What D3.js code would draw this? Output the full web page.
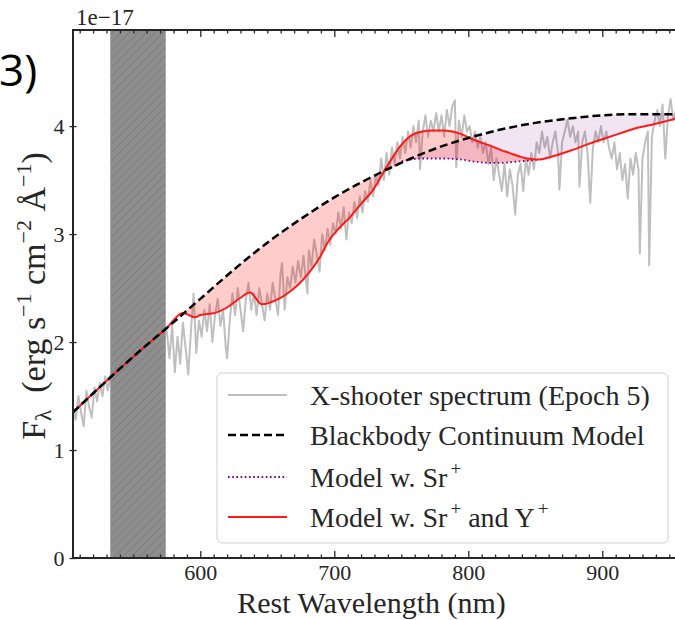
<!DOCTYPE html>
<html><head><meta charset="utf-8">
<script src="https://cdn.jsdelivr.net/npm/d3@7"></script>
<style>body{margin:0;background:#fff}svg{display:block}</style>
</head><body><svg id="c" width="675" height="620"></svg>
<script>
// ---------------- data ----------------
const xTicks = [600, 700, 800, 900];
const yTicks = [0, 1, 2, 3, 4];
const maskedBand = [533, 574];
const legendLabels = ["X-shooter spectrum (Epoch 5)", "Blackbody Continuum Model", "Model w. Sr", "Model w. Sr"];

const blackbody = [[505,1.35],[530,1.64],[555,1.92],[575,2.13],[600,2.40],[625,2.67],[650,2.92],[675,3.14],[700,3.34],[725,3.51],[750,3.66],[775,3.79],[800,3.89],[825,3.97],[850,4.03],[875,4.07],[900,4.10],[925,4.11],[955,4.11]];

const modelSrY = [[505,1.35],[530,1.64],[555,1.92],[575,2.13],[587,2.27],[596,2.23],[600,2.25],[611,2.27],[620,2.32],[630,2.41],[637,2.46],[646,2.35],[657,2.39],[665,2.45],[673,2.53],[681,2.64],[689,2.78],[695,2.92],[704,3.06],[712,3.16],[720,3.28],[729,3.41],[739,3.62],[749,3.81],[757,3.91],[766,3.95],[773,3.96],[781,3.96],[788,3.95],[794,3.93],[801,3.89],[809,3.85],[816,3.82],[824,3.78],[831,3.75],[838,3.72],[844,3.70],[853,3.69],[860,3.71],[866,3.73],[878,3.78],[891,3.84],[903,3.89],[915,3.94],[925,3.98],[936,4.01],[946,4.04],[955,4.07]];

const modelSr = [[745,3.63],[750,3.67],[757,3.69],[765,3.70],[780,3.70],[795,3.69],[805,3.67],[815,3.66],[825,3.66],[835,3.67],[845,3.68],[853,3.69]];

const spectrum = [[505,1.40],[507,1.28],[509,1.50],[511,1.35],[513,1.22],[515,1.55],[517,1.40],[519,1.30],[521,1.58],[523,1.45],[525,1.62],[527,1.50],[529,1.68],[531,1.55],[533,1.70],[540,1.78],[550,1.85],[560,1.95],[570,2.05],
[575,2.10],[577,1.85],[579,2.15],[581,1.72],[583,2.05],[585,1.80],[587,2.18],[589,1.95],[591,1.70],[593,2.10],[595,2.45],[597,1.90],[599,2.20],
[601,2.05],[603,2.30],[605,2.10],[607,2.35],[609,2.00],[611,2.25],[613,2.40],[615,2.15],[617,2.30],[619,1.95],[620,1.85],[622,2.20],[624,2.45],[626,2.25],[628,2.50],[630,2.30],[632,2.10],[634,2.40],[636,2.55],[638,2.30],[640,2.45],
[642,2.25],[644,2.50],[646,2.35],[648,2.20],[650,2.45],[652,2.30],[654,2.55],[656,2.40],[658,2.25],[660,2.65],[661,2.73],[663,2.30],[665,2.60],[667,2.50],[669,2.70],[671,2.55],[673,2.75],[675,2.60],[677,2.80],[679,2.55],[680,2.45],[681,2.85],[683,2.70],[685,2.95],[687,2.80],[689,2.65],[691,3.00],[693,2.85],[695,3.05],[697,2.90],[699,3.10],
[701,3.00],[703,3.20],[705,3.05],[707,3.25],[709,2.95],[711,3.20],[713,3.10],[715,3.30],[717,3.15],[719,3.35],[721,3.20],[723,3.40],[725,3.30],[727,3.50],[729,3.35],[731,3.55],[733,3.45],[735,3.70],[737,3.50],[739,3.75],[741,3.55],
[743,3.80],[745,3.65],[747,3.85],[749,3.70],[751,3.90],[753,3.75],[755,3.95],[757,3.80],[759,4.00],[761,3.85],[763,4.05],[764,3.60],[766,3.95],[768,4.10],[770,3.90],[772,4.05],[774,3.95],[776,4.12],[778,3.95],[780,4.10],[782,3.90],[784,4.15],[786,4.00],[788,4.18],[790,4.24],[791,3.62],[793,4.05],[795,3.90],[797,4.10],[799,3.95],
[801,4.00],[803,3.85],[805,3.95],[807,3.80],[809,3.90],[811,3.75],[813,3.85],[815,3.65],[817,3.80],[819,3.50],[821,3.70],[823,3.55],[825,3.40],[827,3.65],[829,3.35],[831,3.60],[833,3.45],[835,3.18],[837,3.55],[839,3.65],[841,3.40],[843,3.70],[845,3.55],[847,3.75],[849,3.60],
[851,3.85],[853,3.75],[855,3.95],[857,3.80],[859,3.90],[861,3.70],[863,3.85],[865,3.95],[867,3.75],[868,3.41],[870,3.85],[872,3.95],[874,4.06],[876,3.90],[878,4.00],[880,3.85],[882,3.95],[883,3.44],[885,3.85],[887,3.95],[889,3.75],[891,3.29],[893,3.80],[895,3.95],[897,3.85],[899,4.00],[901,3.85],[903,3.95],
[905,3.80],[907,3.70],[909,3.85],[911,3.60],[913,3.75],[915,3.50],[917,3.65],[919,3.33],[921,3.70],[923,3.55],[925,3.75],[927,3.60],[928,2.82],[930,3.70],[932,3.85],[934,3.95],[935,2.71],[937,3.90],[939,4.05],[941,4.15],[943,4.00],[945,4.20],[947,3.70],[949,4.10],[951,4.25],[953,4.05],[955,4.15]];

// ---------------- layout ----------------
const svg = d3.select("#c");
const L = 73, T = 30, R = 680, B = 558;
const x = d3.scaleLinear().domain([505, 955]).range([L, 676]);
const y = d3.scaleLinear().domain([0, 4.89]).range([B, T]);
const serif = "'Liberation Serif','DejaVu Serif',serif";

const defs = svg.append("defs");
defs.append("clipPath").attr("id","clip").append("rect").attr("x",L).attr("y",T).attr("width",R-L).attr("height",B-T);
const pat = defs.append("pattern").attr("id","hatch").attr("patternUnits","userSpaceOnUse")
  .attr("width",6).attr("height",6).attr("patternTransform","rotate(45)");
pat.append("rect").attr("width",6).attr("height",6).attr("fill","#8e8e8e");
pat.append("line").attr("x1",0).attr("y1",0).attr("x2",0).attr("y2",6).attr("stroke","#747474").attr("stroke-width",1.2);

const interp = (arr) => (v) => {
  const i = d3.bisector(d => d[0]).right(arr, v);
  if (i <= 0) return arr[0][1];
  if (i >= arr.length) return arr[arr.length-1][1];
  const a = arr[i-1], b = arr[i];
  return a[1] + (b[1]-a[1]) * (v - a[0]) / (b[0]-a[0]);
};
const bbF = interp(blackbody), redF = interp(modelSrY), purF = interp(modelSr);
const srLo = modelSr[0][0], srHi = modelSr[modelSr.length-1][0];
const P = v => v < srLo ? bbF(v) : (v <= srHi ? purF(v) : redF(v));
const grid = Array.from(new Set([...blackbody, ...modelSrY, ...modelSr].map(d=>d[0]).concat(d3.range(505, 956, 1)))).sort((a,b)=>a-b);

const g = svg.append("g").attr("clip-path","url(#clip)");
const line = d3.line().x(d=>x(d[0])).y(d=>y(d[1]));

// spectrum
g.append("path").datum(spectrum).attr("d", line).attr("fill","none")
  .attr("stroke","#bfbfbf").attr("stroke-width",2).attr("stroke-linejoin","round");

// masked band
g.append("rect").attr("x", x(maskedBand[0])).attr("y", T).attr("width", x(maskedBand[1]) - x(maskedBand[0]))
  .attr("height", B - T).attr("fill","url(#hatch)").attr("stroke","#a8a8a8").attr("stroke-width",1);

// fills
const gp = grid.filter(v => v >= srLo);
g.append("path").datum(gp).attr("d", d3.area().x(v=>x(v)).y0(v=>y(bbF(v))).y1(v=>y(P(v))))
  .attr("fill","purple").attr("fill-opacity",0.1);
const gr = grid.filter(v => v >= 587);
g.append("path").datum(gr).attr("d", d3.area().x(v=>x(v)).y0(v=>y(P(v))).y1(v=>y(redF(v))))
  .attr("fill","red").attr("fill-opacity",0.2);

// model lines
g.append("path").datum(modelSr).attr("d", d3.line().x(d=>x(d[0])).y(d=>y(d[1])).curve(d3.curveMonotoneX))
  .attr("fill","none").attr("stroke","purple").attr("stroke-width",1.8).attr("stroke-dasharray","1.6,2.6");
g.append("path").datum(modelSrY).attr("d", d3.line().x(d=>x(d[0])).y(d=>y(d[1])).curve(d3.curveMonotoneX))
  .attr("fill","none").attr("stroke","#ff1a1a").attr("stroke-width",2);
g.append("path").datum(blackbody).attr("d", d3.line().x(d=>x(d[0])).y(d=>y(d[1])).curve(d3.curveMonotoneX))
  .attr("fill","none").attr("stroke","#000").attr("stroke-width",2.5).attr("stroke-dasharray","8,4");

// ---------------- axes ----------------
const axColor = "#262626";
const minorX = d3.range(510, 955, 10).filter(v => v % 100 !== 0);
function styleAxis(sel){
  sel.selectAll("path.domain").remove();
  sel.selectAll("line").attr("stroke",axColor).attr("stroke-width",1.3);
  sel.selectAll("text").attr("fill",axColor).style("font-family",serif).style("font-size","22px");
}
svg.append("g").attr("transform",`translate(0,${B})`)
  .call(d3.axisBottom(x).tickValues(xTicks).tickSize(-7).tickPadding(6).tickFormat(d3.format("d"))).call(styleAxis);
svg.append("g").attr("transform",`translate(0,${B})`)
  .call(d3.axisBottom(x).tickValues(minorX).tickSize(-3.5).tickFormat("")).call(styleAxis);
svg.append("g").attr("transform",`translate(0,${T})`)
  .call(d3.axisTop(x).tickValues(xTicks).tickSize(-7).tickFormat("")).call(styleAxis);
svg.append("g").attr("transform",`translate(0,${T})`)
  .call(d3.axisTop(x).tickValues(minorX).tickSize(-3.5).tickFormat("")).call(styleAxis);
svg.append("g").attr("transform",`translate(${L},0)`)
  .call(d3.axisLeft(y).tickValues(yTicks).tickSize(3.5).tickPadding(5).tickFormat(d3.format("d"))).call(styleAxis);
svg.append("g").attr("transform",`translate(${L},0)`)
  .call(d3.axisLeft(y).tickValues(yTicks).tickSize(-3.5).tickFormat("")).call(styleAxis);

// spines
svg.append("line").attr("x1",L).attr("x2",L).attr("y1",T).attr("y2",B).attr("stroke",axColor).attr("stroke-width",2);
svg.append("line").attr("x1",L-1).attr("x2",R).attr("y1",B).attr("y2",B).attr("stroke",axColor).attr("stroke-width",2);
svg.append("line").attr("x1",L-1).attr("x2",R).attr("y1",T).attr("y2",T).attr("stroke",axColor).attr("stroke-width",2);

// offset text
svg.append("text").attr("x",76).attr("y",25).attr("fill",axColor)
  .style("font-family",serif).style("font-size","23px").text("1e\u221217");

// axis labels
svg.append("text").attr("x",(L+676)/2 - 3).attr("y",613).attr("text-anchor","middle").attr("fill",axColor)
  .style("font-family",serif).style("font-size","30px").text("Rest Wavelength (nm)");

const yl = svg.append("text").attr("transform","translate(45,296) rotate(-90)").attr("text-anchor","middle")
  .attr("fill",axColor).style("font-family",serif).style("font-size","34px");
yl.append("tspan").text("F");
yl.append("tspan").attr("dy",6).style("font-size","23px").text("\u03bb");
yl.append("tspan").attr("dy",-6).text("\u2002(erg s");
yl.append("tspan").attr("dy",-14).style("font-size","22px").text("\u22121");
yl.append("tspan").attr("dy",14).text(" cm");
yl.append("tspan").attr("dy",-14).style("font-size","22px").text("\u22122");
yl.append("tspan").attr("dy",14).text(" \u00c5");
yl.append("tspan").attr("dy",-14).style("font-size","22px").text("\u22121");
yl.append("tspan").attr("dy",14).text(")");

// panel label
svg.append("text").attr("x",-1).attr("y",86).attr("text-anchor","start").attr("fill","#000")
  .style("font-family","'Open Sans','Liberation Sans',sans-serif").style("font-size","44px").text("3)");

// ---------------- legend ----------------
const lg = svg.append("g");
lg.append("rect").attr("x",217).attr("y",373).attr("width",451).attr("height",170).attr("rx",5)
  .attr("fill","#fff").attr("fill-opacity",0.85).attr("stroke","#d0d0d0").attr("stroke-width",1);
const rowsY = [395, 435, 477, 517];
const styles = [
  {c:"#bfbfbf", w:2, d:null},
  {c:"#000", w:2.5, d:"8,4"},
  {c:"purple", w:1.8, d:"1.6,2.6"},
  {c:"#ff1a1a", w:2, d:null}
];
styles.forEach((s,i) => {
  const ln = lg.append("line").attr("x1",228).attr("x2",287).attr("y1",rowsY[i]).attr("y2",rowsY[i])
    .attr("stroke",s.c).attr("stroke-width",s.w);
  if (s.d) ln.attr("stroke-dasharray", s.d);
  const t = lg.append("text").attr("x",310).attr("y",rowsY[i]+10).attr("fill",axColor)
    .style("font-family",serif).style("font-size","28px");
  t.append("tspan").text(legendLabels[i]);
  if (i >= 2) {
    t.append("tspan").attr("dx",3).attr("dy",-12).style("font-size","19px").text("+");
    if (i === 3) {
      t.append("tspan").attr("dy",12).text(" and Y");
      t.append("tspan").attr("dx",3).attr("dy",-12).style("font-size","19px").text("+");
    }
  }
});
</script></body></html>
